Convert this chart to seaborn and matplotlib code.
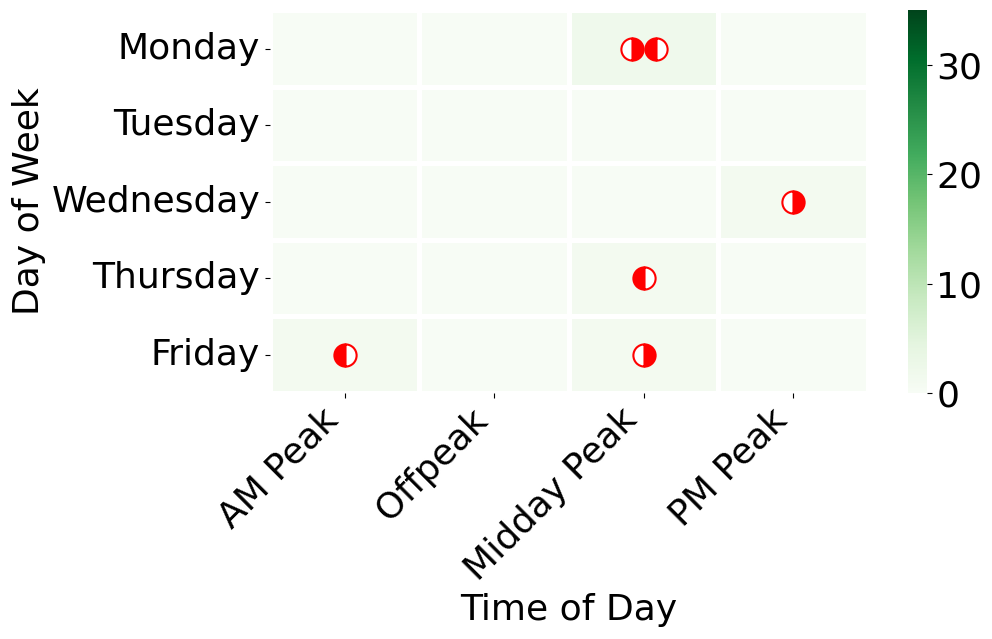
import pandas as pd
import numpy as np
import matplotlib.pyplot as plt
import seaborn as sns

days = ["Monday", "Tuesday", "Wednesday", "Thursday", "Friday"]
times = ["AM Peak", "Offpeak", "Midday Peak", "PM Peak"]
counts = [[0, 0, 2, 0],
          [0, 0, 0, 0],
          [0, 0, 0, 1],
          [0, 0, 1, 0],
          [1, 0, 1, 0]]

# events drawn as half circles: (day, time, offset, fillstyle)
ev_day = ["Monday", "Monday", "Wednesday", "Thursday", "Friday", "Friday"]
ev_time = ["Midday Peak", "Midday Peak", "PM Peak", "Midday Peak", "AM Peak", "Midday Peak"]
ev_offset = [-0.08, 0.08, 0.0, 0.0, 0.0, 0.0]
ev_fill = ["right", "left", "right", "left", "left", "right"]


def main():
    df = pd.DataFrame(counts, index=days, columns=times)
    fig = plt.figure(figsize=(9.92, 6.39), dpi=100)
    ax = fig.add_axes([0.272, 0.385, 0.603, 0.599])
    cax = fig.add_axes([0.915, 0.385, 0.019, 0.599])
    sns.heatmap(df, cmap="Greens", vmin=0, vmax=35, linewidths=2.2, linecolor="white",
                ax=ax, cbar_ax=cax)
    for d, t, off, fs in zip(ev_day, ev_time, ev_offset, ev_fill):
        x = times.index(t) + 0.5 + off
        y = days.index(d) + 0.5
        ax.plot(x, y, marker="o", markersize=16, fillstyle=fs, color="red",
                markerfacecoloralt="white", markeredgecolor="red", markeredgewidth=1.5)
    ax.set_xlabel("Time of Day", fontsize=26)
    ax.set_ylabel("Day of Week", fontsize=26)
    ax.set_xticklabels(times, rotation=45, ha="right", fontsize=26)
    ax.set_yticklabels(days, rotation=0, fontsize=26)
    cax.tick_params(labelsize=26)
    cax.set_yticks([0, 10, 20, 30])
    fig.savefig("out.png", dpi=100)


if __name__ == "__main__":
    main()
